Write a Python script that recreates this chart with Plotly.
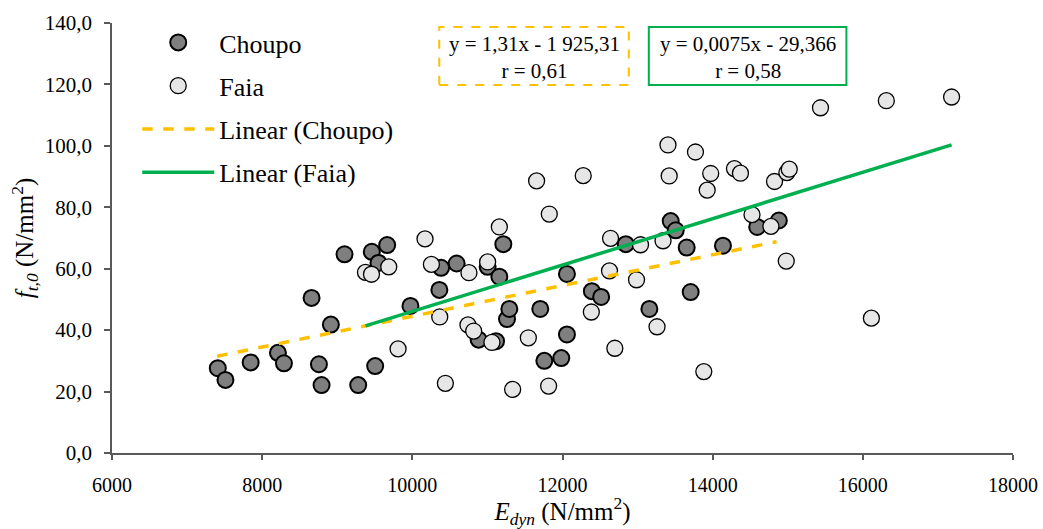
import plotly.graph_objects as go

# ---------------- data ----------------
choupo_x = [7409, 7511, 7847, 8210, 8290, 8658, 8756, 8791, 8915, 9097, 9279, 9460,
            9505, 9549, 9665, 9975, 10360, 10383, 10590, 10883, 11003, 11115, 11159,
            11212, 11261, 11292, 11704, 11758, 11984, 12059, 12059, 12391, 12515,
            12843, 13157, 13441, 13508, 13654, 13707, 14137, 14593, 14881]
choupo_y = [27.6, 23.8, 29.5, 32.6, 29.2, 50.5, 28.9, 22.1, 41.8, 64.7, 22.1, 65.5,
            28.3, 61.9, 67.7, 47.9, 53.1, 60.3, 61.7, 36.9, 60.6, 36.4, 57.4,
            68.0, 43.6, 46.9, 46.9, 30.0, 30.9, 58.3, 38.6, 52.7, 50.8,
            68.0, 46.9, 75.5, 72.5, 66.9, 52.4, 67.5, 73.6, 75.7]

faia_x = [9376, 9456, 9686, 9810, 10169, 10254, 10365, 10440, 10741, 10754, 10817,
          11003, 11060, 11159, 11336, 11545, 11655, 11815, 11824, 12276, 12384,
          12626, 12640, 12697, 12986, 13039, 13259, 13339, 13405, 13421, 13771,
          13882, 13927, 13974, 14290, 14370, 14524, 14776, 14824, 14988, 15020,
          14980, 15436, 16114, 16313, 17182]
faia_y = [58.8, 58.2, 60.6, 33.9, 69.7, 61.4, 44.3, 22.7, 41.7, 58.7, 39.7,
          62.2, 36.0, 73.6, 20.7, 37.5, 88.6, 21.8, 77.8, 90.3, 45.9,
          59.3, 69.9, 34.1, 56.4, 67.8, 41.1, 69.1, 100.3, 90.2, 98.0,
          26.5, 85.6, 91.0, 92.6, 91.1, 77.6, 73.8, 88.4, 91.3, 92.4,
          62.5, 112.4, 43.9, 114.7, 115.9]

# trend line end points
choupo_trend_x = [7400, 14850]
choupo_trend_y = [31.5, 68.8]
faia_trend_x = [9376, 17182]
faia_trend_y = [41.4, 100.3]

x_ticks = [6000, 8000, 10000, 12000, 14000, 16000, 18000]
y_ticks = [0, 20, 40, 60, 80, 100, 120, 140]

eq_choupo = "y = 1,31x - 1 925,31<br>r = 0,61"
eq_faia = "y = 0,0075x - 29,366<br>r = 0,58"

FONT = "Liberation Serif, Times New Roman, serif"
ORANGE = "#FFC000"
GREEN = "#00B050"
AXIS = "#595959"

fig = go.Figure()

fig.add_trace(go.Scatter(
    x=choupo_x, y=choupo_y, mode="markers", name="Choupo", legendgroup="a",
    marker=dict(size=16, color="#7F7F7F", line=dict(color="black", width=2))))
fig.add_trace(go.Scatter(
    x=faia_x, y=faia_y, mode="markers", name="Faia", legendgroup="b",
    marker=dict(size=16, color="#E6E6E6", line=dict(color="black", width=1.3))))
fig.add_trace(go.Scatter(
    x=choupo_trend_x, y=choupo_trend_y, mode="lines", name="Linear (Choupo)",
    legendgroup="c", line=dict(color=ORANGE, width=3.5, dash="dash")))
fig.add_trace(go.Scatter(
    x=faia_trend_x, y=faia_trend_y, mode="lines", name="Linear (Faia)",
    legendgroup="d", line=dict(color=GREEN, width=3.5)))

# equation boxes
fig.add_shape(type="rect", xref="paper", yref="paper",
              x0=0.3632, x1=0.5736, y0=0.8558, y1=0.9907,
              line=dict(color=ORANGE, width=2, dash="dash"), fillcolor="white", layer="below")
fig.add_shape(type="rect", xref="paper", yref="paper",
              x0=0.5958, x1=0.8151, y0=0.8558, y1=0.9907,
              line=dict(color=GREEN, width=2), fillcolor="white", layer="below")
fig.add_annotation(xref="paper", yref="paper", x=0.4684, y=0.9200, text=eq_choupo,
                   xanchor="center", yanchor="middle",
                   showarrow=False, align="center", font=dict(family=FONT, size=21, color="black"))
fig.add_annotation(xref="paper", yref="paper", x=0.7054, y=0.9200, text=eq_faia,
                   xanchor="center", yanchor="middle",
                   showarrow=False, align="center", font=dict(family=FONT, size=21, color="black"))

fig.update_layout(
    width=1043, height=529,
    margin=dict(l=112, r=30, t=23, b=76),
    paper_bgcolor="white", plot_bgcolor="white",
    font=dict(family=FONT, color="black"),
    separators=",.",
    showlegend=True,
    legend=dict(x=0.028, y=1.0093, xanchor="left", yanchor="top",
                font=dict(family=FONT, size=26, color="black"),
                bgcolor="rgba(0,0,0,0)", tracegroupgap=6.5, itemwidth=72),
    xaxis=dict(range=[6000, 18000], tickvals=x_ticks, tickformat="d",
               showgrid=False, zeroline=False, showline=True, linecolor=AXIS, linewidth=1.5,
               ticks="outside", tickcolor=AXIS, ticklen=5, tickwidth=1.5,
               ticklabelstandoff=8, automargin=False,
               tickfont=dict(family=FONT, size=20, color="black"),
               title=dict(text="<i>E</i><sub><i>dyn</i></sub> (N/mm<sup>2</sup>)",
                          font=dict(family=FONT, size=25, color="black"), standoff=10)),
    yaxis=dict(range=[0, 140], tickvals=y_ticks, tickformat=".1f",
               showgrid=False, zeroline=False, showline=True, linecolor=AXIS, linewidth=1.5,
               ticks="outside", tickcolor=AXIS, ticklen=6, tickwidth=1.5,
               ticklabelstandoff=8, automargin=False,
               tickfont=dict(family=FONT, size=21, color="black"),
               title=dict(text="<i>f</i><sub><i>t,0</i></sub> (N/mm<sup>2</sup>)",
                          font=dict(family=FONT, size=25, color="black"), standoff=4)),
)

fig.write_html("out.html")
